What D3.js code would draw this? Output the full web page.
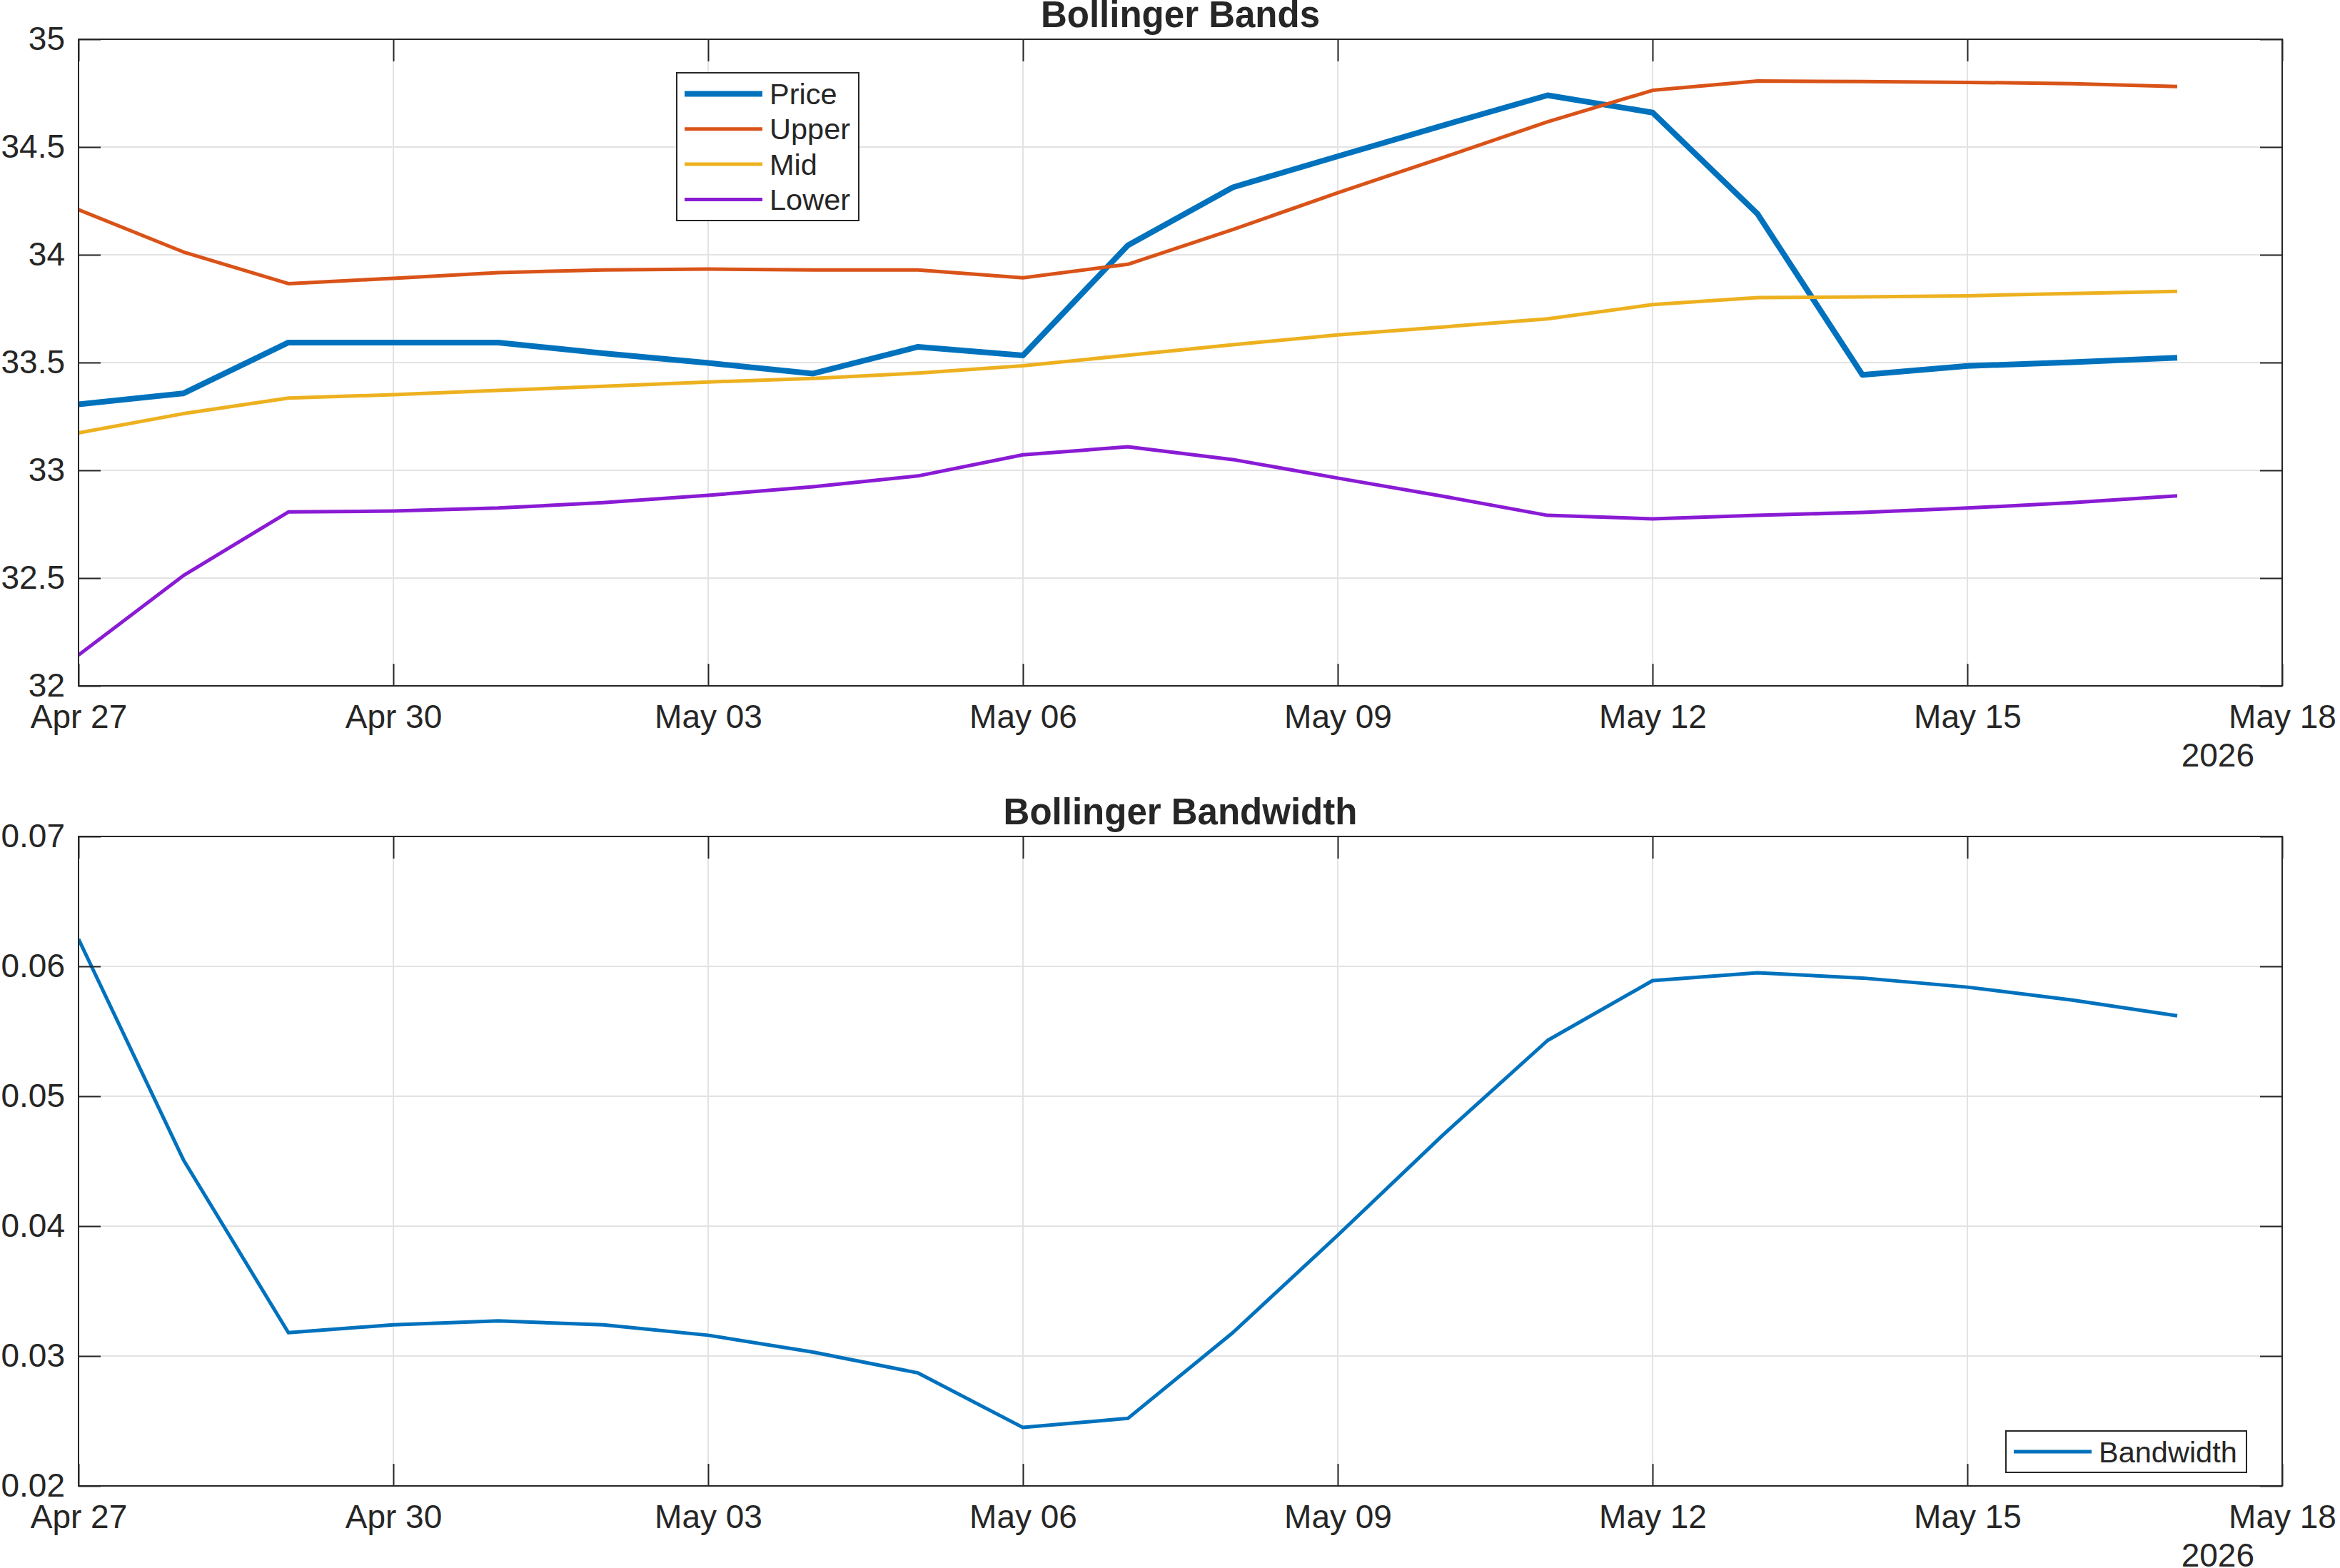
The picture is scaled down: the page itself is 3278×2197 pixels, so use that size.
<!DOCTYPE html>
<html>
<head>
<meta charset="utf-8">
<script src="https://cdnjs.cloudflare.com/ajax/libs/d3/7.8.5/d3.min.js"></script>
<style>
  body { margin: 0; background: #fff; }
  text { font-family: "Liberation Sans", Arial, sans-serif; fill: #262626; }
</style>
</head>
<body>
<div id="chart"></div>
<script>
// Data
var dates = ["2026-04-27","2026-04-28","2026-04-29","2026-04-30","2026-05-01","2026-05-02","2026-05-03",
             "2026-05-04","2026-05-05","2026-05-06","2026-05-07","2026-05-08","2026-05-09","2026-05-10",
             "2026-05-11","2026-05-12","2026-05-13","2026-05-14","2026-05-15","2026-05-16","2026-05-17"];
var price = [33.306, 33.357, 33.593, 33.593, 33.593, 33.543, 33.498, 33.449, 33.573, 33.533, 34.044,
             34.313, 34.457, 34.600, 34.740, 34.660, 34.190, 33.443, 33.484, 33.502, 33.522];
var upper = [34.209, 34.013, 33.866, 33.891, 33.917, 33.930, 33.934, 33.930, 33.930, 33.893, 33.956,
             34.117, 34.288, 34.451, 34.617, 34.763, 34.806, 34.804, 34.800, 34.794, 34.781];
var mid   = [33.174, 33.263, 33.335, 33.351, 33.371, 33.390, 33.410, 33.426, 33.451, 33.485, 33.534,
             33.583, 33.628, 33.665, 33.703, 33.769, 33.801, 33.805, 33.810, 33.820, 33.830];
var lower = [32.143, 32.512, 32.807, 32.811, 32.825, 32.850, 32.884, 32.924, 32.974, 33.072, 33.109,
             33.050, 32.964, 32.880, 32.791, 32.775, 32.791, 32.805, 32.825, 32.850, 32.882];
var bandwidth = [0.0621, 0.0451, 0.0318, 0.0324, 0.0327, 0.0324, 0.0316, 0.0303, 0.0287, 0.0245, 0.0252,
                 0.0318, 0.0393, 0.0470, 0.0543, 0.0589, 0.0595, 0.0591, 0.0584, 0.0574, 0.0562];

var xTicks = ["2026-04-27","2026-04-30","2026-05-03","2026-05-06","2026-05-09","2026-05-12","2026-05-15","2026-05-18"];
var bandTicks = [32, 32.5, 33, 33.5, 34, 34.5, 35];
var bwTicks = [0.02, 0.03, 0.04, 0.05, 0.06, 0.07];

//Width and height
var w = 3278;
var h = 2197;
var left = 110, right = 3197;
var ink = "#262626";
var gridColor = "#e3e3e3";

var parse = d3.timeParse("%Y-%m-%d");
var days = dates.map(parse);
var tickDays = xTicks.map(parse);

var svg = d3.select("#chart")
            .append("svg")
            .attr("width", w)
            .attr("height", h);

var x = d3.scaleTime()
          .domain([parse("2026-04-27"), parse("2026-05-18")])
          .range([left, right]);

var drawPanel = function(opts) {
    var y = d3.scaleLinear()
              .domain(opts.domain)
              .range([opts.bottom, opts.top]);
    var g = svg.append("g");
    var id = "clip" + opts.top;

    g.append("clipPath").attr("id", id)
        .append("rect")
        .attr("x", left).attr("y", opts.top)
        .attr("width", right - left).attr("height", opts.bottom - opts.top);

    //Grid
    g.selectAll(".vgrid").data(tickDays).enter().append("line")
        .attr("x1", function(d) { return x(d); }).attr("x2", function(d) { return x(d); })
        .attr("y1", opts.top).attr("y2", opts.bottom)
        .style("stroke", gridColor).style("stroke-width", 2);
    g.selectAll(".hgrid").data(opts.ticks).enter().append("line")
        .attr("x1", left).attr("x2", right)
        .attr("y1", function(d) { return y(d); }).attr("y2", function(d) { return y(d); })
        .style("stroke", gridColor).style("stroke-width", 2);

    //Series
    var line = d3.line()
                 .x(function(d, i) { return x(days[i]); })
                 .y(function(d) { return y(d); });
    opts.series.forEach(function(s) {
        g.append("path")
            .datum(s.values)
            .attr("d", line)
            .attr("clip-path", "url(#" + id + ")")
            .style("fill", "none")
            .style("stroke", s.color)
            .style("stroke-width", s.width)
            .style("stroke-linejoin", "round");
    });

    //Axes with inward ticks on all four sides
    var tl = 31;
    var xb = d3.axisBottom(x).tickValues(tickDays).tickFormat(d3.timeFormat("%b %d"))
               .tickSizeInner(-tl).tickSizeOuter(0).tickPadding(26);
    var xt = d3.axisTop(x).tickValues(tickDays).tickFormat("").tickSizeInner(-tl).tickSizeOuter(0);
    var yl = d3.axisLeft(y).tickValues(opts.ticks).tickFormat(d3.format(opts.fmt))
               .tickSizeInner(-tl).tickSizeOuter(0).tickPadding(19);
    var yr = d3.axisRight(y).tickValues(opts.ticks).tickFormat("").tickSizeInner(-tl).tickSizeOuter(0);

    [[xb, "translate(0," + opts.bottom + ")"], [xt, "translate(0," + opts.top + ")"],
     [yl, "translate(" + left + ",0)"], [yr, "translate(" + right + ",0)"]].forEach(function(a) {
        var ax = g.append("g").attr("transform", a[1]).call(a[0]);
        ax.select(".domain").remove();
        ax.selectAll("line").style("stroke", ink).style("stroke-width", 2);
        ax.selectAll("text").style("font-size", "46px").style("fill", ink)
            .style("font-family", "'Liberation Sans', Arial, sans-serif");
    });

    g.append("rect")
        .attr("x", left).attr("y", opts.top)
        .attr("width", right - left).attr("height", opts.bottom - opts.top)
        .style("fill", "none").style("stroke", ink).style("stroke-width", 2);

    //Title and year
    g.append("text")
        .attr("x", (left + right) / 2).attr("y", opts.top - 17)
        .attr("text-anchor", "middle")
        .style("font-size", "51px").style("font-weight", "bold")
        .text(opts.title);
    g.append("text")
        .attr("x", 3158).attr("y", opts.bottom + 113)
        .attr("text-anchor", "end")
        .style("font-size", "46px")
        .text("2026");

    //Legend
    var lg = opts.legend;
    var rowH = 49.3;
    var lgn = g.append("g");
    lgn.append("rect")
        .attr("x", lg.x).attr("y", lg.y)
        .attr("width", lg.w).attr("height", lg.h)
        .style("fill", "#fff").style("stroke", ink).style("stroke-width", 2);
    var rows = lgn.selectAll(".row").data(opts.series).enter().append("g")
        .attr("transform", function(d, i) { return "translate(" + lg.x + "," + (lg.y + lg.first + i * rowH) + ")"; });
    rows.append("line")
        .attr("x1", 11).attr("x2", 120)
        .style("stroke", function(d) { return d.color; })
        .style("stroke-width", function(d) { return d.width; });
    rows.append("text")
        .attr("x", 130).attr("dy", "0.35em")
        .style("font-size", "41.5px")
        .text(function(d) { return d.name; });
};

drawPanel({
    top: 55, bottom: 961,
    domain: [32, 35], ticks: bandTicks, fmt: "~g",
    title: "Bollinger Bands",
    legend: {x: 948, y: 102, w: 255, h: 207, first: 29.5},
    series: [
        {name: "Price", values: price, color: "#0072BD", width: 8},
        {name: "Upper", values: upper, color: "#D95319", width: 5},
        {name: "Mid", values: mid, color: "#EDB120", width: 5},
        {name: "Lower", values: lower, color: "#8A1BD4", width: 5}
    ]
});

drawPanel({
    top: 1172, bottom: 2082,
    domain: [0.02, 0.07], ticks: bwTicks, fmt: ".2f",
    title: "Bollinger Bandwidth",
    legend: {x: 2810, y: 2005, w: 337, h: 58, first: 29},
    series: [
        {name: "Bandwidth", values: bandwidth, color: "#0072BD", width: 5}
    ]
});
</script>
</body>
</html>
